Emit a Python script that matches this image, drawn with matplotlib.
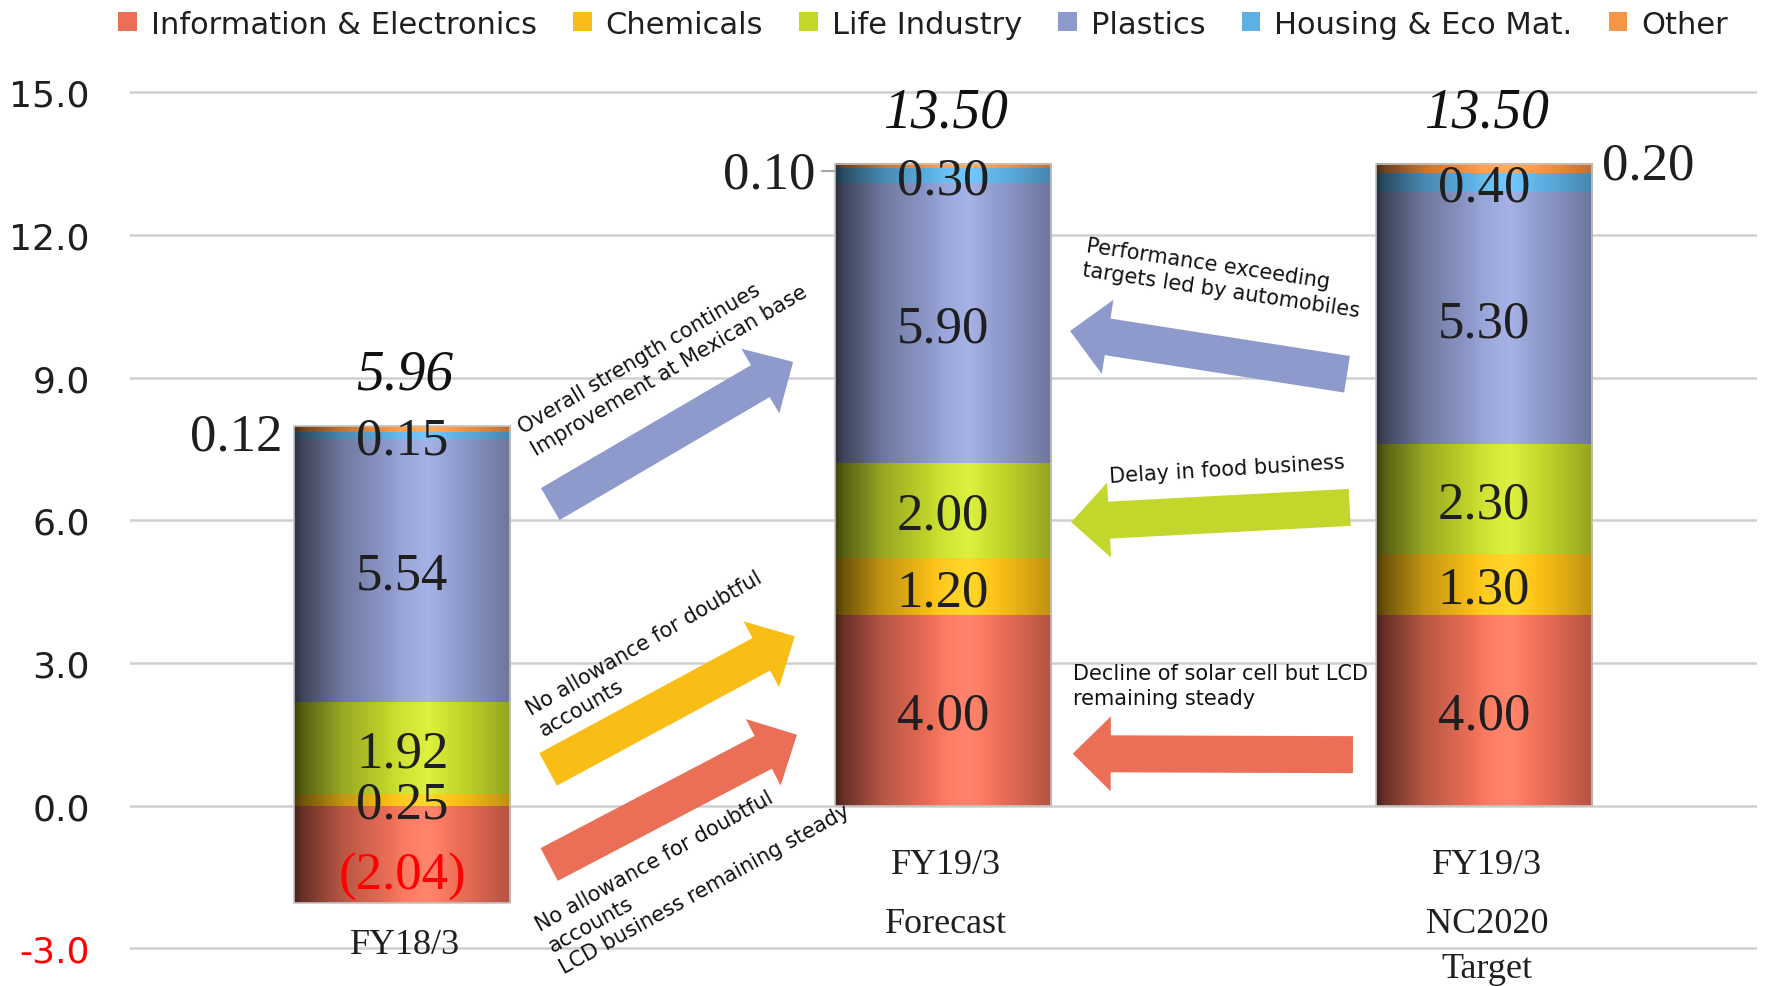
import numpy as np
import matplotlib
matplotlib.use("Agg")
import matplotlib.pyplot as plt
import matplotlib.colors as mcolors
from matplotlib.patches import Polygon, Rectangle

# ---- data -------------------------------------------------------------
categories = ["FY18/3", "FY19/3\nForecast", "FY19/3\nNC2020\nTarget"]
segments = ["Information & Electronics", "Chemicals", "Life Industry",
            "Plastics", "Housing & Eco Mat.", "Other"]
info = [-2.04, 4.00, 4.00]
chemicals = [0.25, 1.20, 1.30]
life = [1.92, 2.00, 2.30]
plastics = [5.54, 5.90, 5.30]
housing = [0.15, 0.30, 0.40]
other = [0.12, 0.10, 0.20]
totals = [5.96, 13.50, 13.50]
y_ticks = [-3.0, 0.0, 3.0, 6.0, 9.0, 12.0, 15.0]

colors = ["#EB6E57", "#F9BE16", "#C3D62B", "#8E9ACB", "#5DB0E4", "#F79546"]

SERIF = "Liberation Serif"
SANS = "DejaVu Sans"
INK = "#1f1f1f"

# ---- layout -----------------------------------------------------------
W, H = 1766, 987
fig = plt.figure(figsize=(W / 100, H / 100), dpi=100)
ax = fig.add_axes([130 / W, 0.0335, 1627 / W, 0.8768])
XLIM = (-0.503, 2.505)
YLIM = (-3.1, 15.1)
BAR_W = 0.4
LABEL_DROP = 0.11


def shaded_strip(color, n=256):
    """Horizontal cylinder-like shading of a base colour."""
    rgb = np.array(mcolors.to_rgb(color))
    t = np.linspace(0, 1, n)
    m = np.interp(t, [0, 0.04, 0.22, 0.5, 0.62, 0.82, 1.0],
                  [0.30, 0.45, 0.78, 1.06, 1.12, 0.95, 0.76])
    out = np.clip(rgb[None, :] * m[:, None], 0, 1)
    w = np.clip(m - 1, 0, None)[:, None] * 0.6
    out = out + (1 - out) * w
    return np.repeat(out[None, :, :], 2, axis=0)


series = [info, chemicals, life, plastics, housing, other]
x = np.arange(len(categories))
pos_base = np.zeros(len(x))
neg_base = np.zeros(len(x))
stack = []
for vals, col, name in zip(series, colors, segments):
    vals = np.asarray(vals, dtype=float)
    bottom = np.where(vals >= 0, pos_base, neg_base)
    bc = ax.bar(x, vals, width=BAR_W, bottom=bottom, color=col, label=name,
                zorder=2, linewidth=0)
    img = shaded_strip(col)
    for rect in bc:
        x0, y0 = rect.get_x(), rect.get_y()
        w, h = rect.get_width(), rect.get_height()
        ax.imshow(img, extent=(x0, x0 + w, min(y0, y0 + h), max(y0, y0 + h)),
                  aspect="auto", origin="lower", interpolation="bilinear",
                  zorder=2.2)
    stack.append((vals, bottom))
    pos_base = pos_base + np.where(vals >= 0, vals, 0)
    neg_base = neg_base + np.where(vals < 0, vals, 0)

# thin outline round each whole bar
for xi, lo, hi in zip(x, neg_base, pos_base):
    ax.add_patch(Rectangle((xi - BAR_W / 2, lo), BAR_W, hi - lo, fill=False,
                           edgecolor="#c4c4c4", linewidth=1.2, zorder=3))

# ---- segment value labels ----------------------------------------------
side = {0: ("left", -0.15, 0.022), 1: ("left", -0.17, 0.036),
        2: ("right", 0.05, 0.018)}
for si, (vals, bottom) in enumerate(stack):
    for bi, (v, b) in enumerate(zip(vals, bottom)):
        txt = f"({abs(v):.2f})" if v < 0 else f"{v:.2f}"
        col = "#FF0000" if v < 0 else INK
        yc = b + v / 2
        if si == len(stack) - 1:
            where, dy, gap = side[bi]
            if where == "left":
                xe = x[bi] - BAR_W / 2
                ax.text(xe - gap, yc + dy, txt, ha="right", va="center",
                        fontsize=38, family=SERIF, color=INK, zorder=5)
                if bi == 1:
                    ax.plot([xe - 0.024, xe], [yc + dy + 0.06] * 2,
                            color="#a6a6a6", lw=1.5, zorder=4)
            else:
                ax.text(x[bi] + BAR_W / 2 + gap, yc + dy, txt, ha="left",
                        va="center", fontsize=38, family=SERIF, color=INK,
                        zorder=5)
            continue
        if v < 0:
            yc = yc - 0.36
        ax.text(x[bi], yc - LABEL_DROP, txt, ha="center", va="center",
                fontsize=38, family=SERIF, color=col, zorder=5)

# ---- totals --------------------------------------------------------------
for xi, top, t in zip(x, pos_base, totals):
    ax.annotate(f"{t:.2f}", xy=(xi, top), xytext=(2, 27),
                textcoords="offset points", ha="center", va="baseline",
                fontsize=40, style="italic", family=SERIF, color="#111111",
                annotation_clip=False, zorder=5)

# ---- category labels -----------------------------------------------------
cat_line_y = [[-2.93], [-1.23, -2.49], [-1.23, -2.49, -3.42]]
for xi, cat, ys in zip(x, categories, cat_line_y):
    for line, yy in zip(cat.split("\n"), ys):
        ax.text(xi + 0.006, yy, line, ha="center", va="center", fontsize=26,
                family=SERIF, color=INK, clip_on=False, zorder=5)


# ---- block arrows --------------------------------------------------------
def block_arrow(tail, tip, color, shaft=37, head_w=75, head_l=38):
    p0 = ax.transData.transform(tail)
    p1 = ax.transData.transform(tip)
    d = p1 - p0
    u = d / np.hypot(*d)
    n = np.array([-u[1], u[0]])
    base = p1 - u * head_l
    pts = np.array([p0 + n * shaft / 2, base + n * shaft / 2,
                    base + n * head_w / 2, p1, base - n * head_w / 2,
                    base - n * shaft / 2, p0 - n * shaft / 2]) / fig.dpi
    fig.patches.append(Polygon(pts, closed=True, facecolor=color,
                               edgecolor="none",
                               transform=fig.dpi_scale_trans, zorder=4))


ax.set_xlim(*XLIM)
ax.set_ylim(*YLIM)

arrows = [
    (3, (0.274, 6.34), (0.723, 9.33)),
    (1, (0.270, 0.76), (0.726, 3.56)),
    (0, (0.272, -1.24), (0.730, 1.49)),
    (3, (1.747, 9.07), (1.235, 9.98)),
    (2, (1.752, 6.27), (1.237, 5.96)),
    (0, (1.758, 1.07), (1.240, 1.09)),
]
for ci, tail, tip in arrows:
    block_arrow(tail, tip, colors[ci])

notes = [
    ("Overall strength continues\nImprovement at Mexican base", (0.482, 9.39), 30.5),
    ("No allowance for doubtful\naccounts", (0.460, 3.20), 30),
    ("No allowance for doubtful\naccounts\nLCD business remaining steady", (0.538, -1.30), 29),
    ("Performance exceeding\ntargets led by automobiles", (1.518, 11.10), -8.5),
    ("Delay in food business", (1.525, 7.09), 3.5),
]
for txt, (nx, ny), rot in notes:
    ax.text(nx, ny, txt, ha="center", va="center", rotation=rot,
            rotation_mode="anchor", multialignment="left", fontsize=15,
            family=SANS, color="#111111", linespacing=1.3, clip_on=False,
            zorder=6)
ax.text(1.240, 2.99, "Decline of solar cell but LCD\nremaining steady",
        ha="left", va="top", fontsize=15, family=SANS, color="#111111",
        linespacing=1.3, zorder=6)

# ---- axes styling --------------------------------------------------------
ax.set_yticks(y_ticks)
ax.set_yticklabels([f"{v:.1f}" for v in y_ticks])
for lbl, v in zip(ax.get_yticklabels(), y_ticks):
    lbl.set_color("#FF0000" if v < 0 else INK)
    lbl.set_family(SANS)
ax.tick_params(axis="y", length=0, pad=29, labelsize=26)
ax.set_xticks([])
ax.yaxis.grid(True, color="#d0d0d0", linewidth=1.8)
ax.set_axisbelow(True)
for sp in ax.spines.values():
    sp.set_visible(False)
ax.patch.set_alpha(0)

handles, labels = ax.get_legend_handles_labels()
leg = fig.legend(handles, labels, loc="center",
                 bbox_to_anchor=(923 / W, 1 - 25 / H), ncol=6, frameon=False,
                 fontsize=22, handlelength=0.6, handleheight=0.6,
                 handletextpad=0.45, columnspacing=1.2, borderaxespad=0,
                 borderpad=0)
for t in leg.get_texts():
    t.set_color(INK)

fig.savefig("out.png", dpi=100, facecolor="white")
